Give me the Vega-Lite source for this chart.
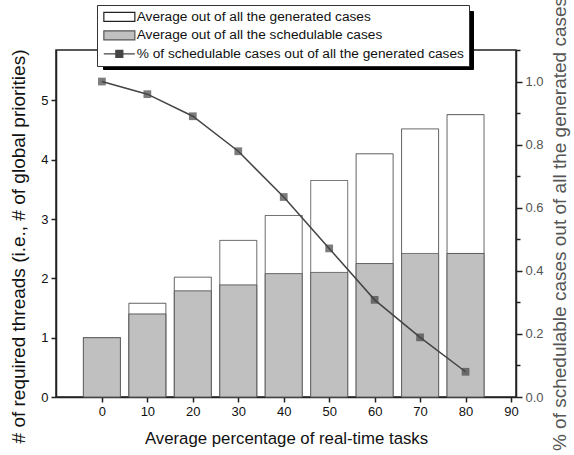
{
  "$schema": "https://vega.github.io/schema/vega-lite/v6.json",
  "autosize": {"type": "none"},
  "width": 460,
  "height": 347,
  "padding": {"left": 56, "top": 50, "right": 58, "bottom": 58},
  "background": "white",
  "config": {
    "view": {"stroke": "#222", "strokeWidth": 1.5},
    "font": "Liberation Sans",
    "axis": {"labelFont": "Liberation Sans", "titleFont": "Liberation Sans", "titleFontWeight": "normal", "domainColor": "#222", "domainWidth": 1.5, "tickColor": "#222", "tickWidth": 1.5, "grid": false, "labelColor": "#111", "titleColor": "#111", "labelFontSize": 13, "titleFontSize": 16.8}
  },
  "data": {"values": [
    {"pct": 0, "generated": 1.0, "schedulable": 1.0, "ratio": 1.0},
    {"pct": 10, "generated": 1.58, "schedulable": 1.40, "ratio": 0.96},
    {"pct": 20, "generated": 2.02, "schedulable": 1.79, "ratio": 0.89},
    {"pct": 30, "generated": 2.64, "schedulable": 1.89, "ratio": 0.779},
    {"pct": 40, "generated": 3.06, "schedulable": 2.08, "ratio": 0.634},
    {"pct": 50, "generated": 3.65, "schedulable": 2.10, "ratio": 0.471},
    {"pct": 60, "generated": 4.10, "schedulable": 2.25, "ratio": 0.308},
    {"pct": 70, "generated": 4.52, "schedulable": 2.42, "ratio": 0.189},
    {"pct": 80, "generated": 4.76, "schedulable": 2.42, "ratio": 0.080}
  ]},
  "encoding": {
    "x": {"field": "pct", "type": "quantitative",
      "scale": {"domain": [-9, 90], "nice": false, "zero": false},
      "axis": {"values": [0,10,20,30,40,50,60,70,80,90], "title": "Average percentage of real-time tasks", "tickSize": 5, "labelPadding": 3, "titlePadding": 12}}
  },
  "layer": [
    {
      "mark": {"type": "bar", "size": 37, "stroke": "#555", "strokeWidth": 1},
      "encoding": {
        "y": {"field": "generated", "type": "quantitative", "scale": {"domain": [0, 5.85], "nice": false},
          "axis": {"values": [0,1,2,3,4,5], "title": "# of required threads (i.e., # of global priorities)", "tickSize": 5, "labelPadding": 3, "titlePadding": 12, "titleFontSize": 19, "titleY": 196}},
        "color": {"datum": "Average out of all the generated cases", "type": "nominal",
          "scale": {"domain": ["Average out of all the generated cases", "Average out of all the schedulable cases", "% of schedulable cases out of all the generated cases"], "range": ["white", "#c0c0c0", "#444444"]},
          "legend": {
            "orient": "none", "legendX": 41, "legendY": -45, "zindex": 1,
            "title": null, "fillColor": "white", "strokeColor": "#333", "padding": 5,
            "labelFont": "Liberation Sans", "labelFontSize": 13.7, "labelColor": "#111", "labelOffset": 21, "labelLimit": 500,
            "symbolSize": 100, "rowPadding": 3.5, "symbolType": "M-1,-0.9H5.2V0.9H-1Z", "symbolStrokeColor": "#333", "symbolStrokeWidth": 1.2,
            "encode": {
              "symbols": {"update": {
                "shape": {"signal": "datum.index == 2 ? 'M-1,0H5.2M1.4,-0.7H2.8V0.7H1.4Z' : 'M-1,-0.9H5.2V0.9H-1Z'"},
                "stroke": {"signal": "datum.index == 0 ? '#222' : datum.index == 1 ? '#555' : '#444444'"}
              }}
            }
          }},
        "strokeDash": {"datum": "s1", "type": "nominal",
          "scale": {"domain": ["s1", "s2", "s3"], "range": [[1, 0], [1, 0], [1, 0]]},
          "legend": {
            "orient": "none", "legendX": 47, "legendY": -39, "zindex": 0,
            "title": null, "fillColor": "black", "strokeColor": "black", "padding": 4,
            "labelFont": "Liberation Sans", "labelFontSize": 13.7, "labelColor": "black", "labelOffset": 21, "labelLimit": 500,
            "labelExpr": "datum.value == 's1' ? 'Average out of all the generated cases' : datum.value == 's2' ? 'Average out of all the schedulable cases' : '% of schedulable cases out of all the generated cases'",
            "symbolSize": 100, "rowPadding": 1.5, "symbolType": "M-1,-0.9H5.2V0.9H-1Z", "symbolFillColor": "black", "symbolStrokeColor": "black"
          }}
      }
    },
    {
      "mark": {"type": "bar", "size": 37, "stroke": "#555", "strokeWidth": 1},
      "encoding": {
        "y": {"field": "schedulable", "type": "quantitative", "scale": {"domain": [0, 5.85], "nice": false}, "axis": null},
        "color": {"datum": "Average out of all the schedulable cases", "type": "nominal"},
        "strokeDash": {"datum": "s2", "type": "nominal"}
      }
    },
    {
      "mark": {"type": "line", "strokeWidth": 1.5, "color": "#444444"},
      "encoding": {
        "y": {"field": "ratio", "type": "quantitative", "scale": {"domain": [0, 1.1], "nice": false},
          "axis": {"orient": "right", "values": [0,0.1,0.2,0.3,0.4,0.5,0.6,0.7,0.8,0.9,1.0,1.1],
            "labelExpr": "round(datum.value*10) % 2 == 0 ? format(datum.value, '.1f') : ''",
            "tickSize": {"condition": {"test": "round(datum.value*10) % 2 == 1", "value": 4}, "value": 6},
            "labelColor": "#555", "titleColor": "#555", "titleFontSize": 19, "titleAngle": 270,
            "title": "% of schedulable cases out of all the generated cases", "labelPadding": 3, "titlePadding": 26}}
      }
    },
    {
      "mark": {"type": "point", "shape": "square", "filled": true, "size": 60},
      "encoding": {
        "y": {"field": "ratio", "type": "quantitative", "scale": {"domain": [0, 1.1], "nice": false}, "axis": null},
        "color": {"datum": "% of schedulable cases out of all the generated cases", "type": "nominal"},
        "strokeDash": {"datum": "s3", "type": "nominal"}
      }
    }
  ],
  "resolve": {"scale": {"y": "independent"}}
}
